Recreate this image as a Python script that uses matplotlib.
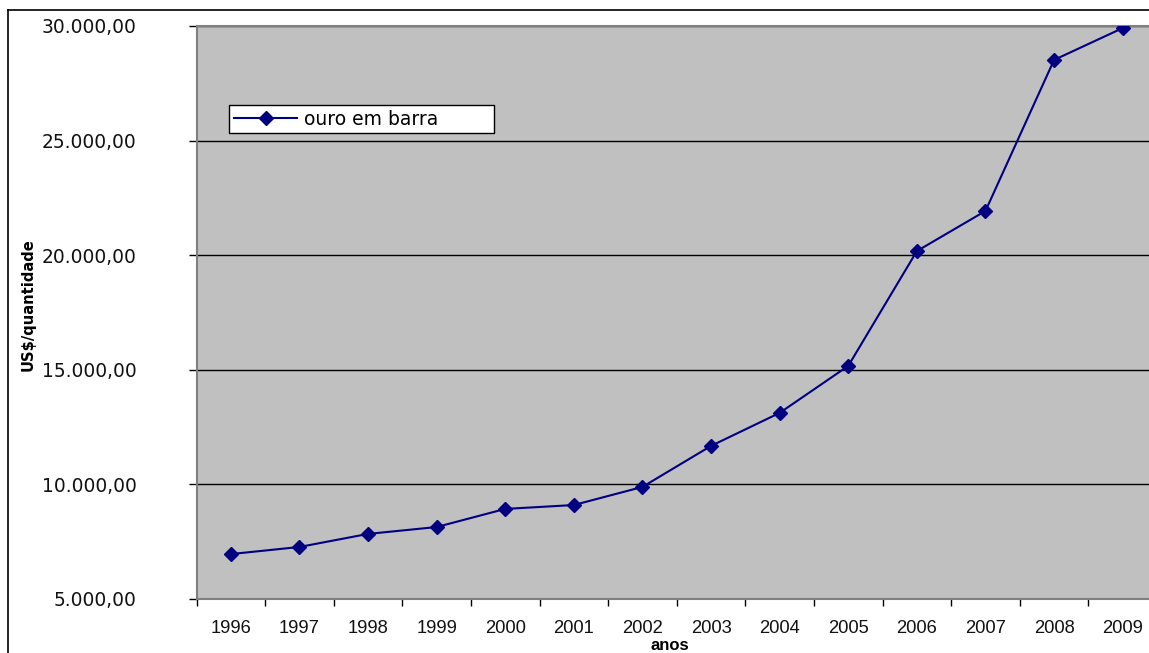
import matplotlib
matplotlib.use("Agg")
import matplotlib.pyplot as plt
from matplotlib.ticker import FuncFormatter, FixedLocator
from matplotlib.lines import Line2D

years = ["1996", "1997", "1998", "1999", "2000", "2001", "2002",
         "2003", "2004", "2005", "2006", "2007", "2008", "2009"]
gold_bar = [6960, 7270, 7840, 8140, 8930, 9100, 9890,
            11680, 13120, 15170, 20180, 21930, 28520, 29910]
series_name = "ouro em barra"
y_ticks = [5000, 10000, 15000, 20000, 25000, 30000]

W, H = 1149, 653
fig = plt.figure(figsize=(W / 100, H / 100), dpi=100)
fig.patch.set_facecolor("white")

# plot area in pixel terms
left_px, right_px, top_px, bottom_px = 196.5, 1157.0, 26.0, 599.0
ax = fig.add_axes([left_px / W, 1 - bottom_px / H,
                   (right_px - left_px) / W, (bottom_px - top_px) / H])
ax.set_facecolor("#C0C0C0")

x = list(range(len(years)))
ax.plot(x, gold_bar, color="#000080", lw=1.5, marker="D", ms=6.8, mew=1,
        mec="#000080", mfc="#000080", label=series_name, zorder=3)

ax.set_xlim(-0.5, len(years) - 0.5)
ax.set_ylim(5000, 30000)

def br_fmt(v, pos):
    s = f"{v:,.2f}"
    return s.replace(",", "X").replace(".", ",").replace("X", ".")

ax.yaxis.set_major_locator(FixedLocator(y_ticks))
ax.yaxis.set_major_formatter(FuncFormatter(br_fmt))
ax.tick_params(axis="y", which="major", direction="out", length=6, width=1,
               color="black", pad=37, labelsize=13.4, labelcolor="#111111")
for lbl in ax.get_yticklabels():
    lbl.set_fontfamily("DejaVu Sans")

ax.set_xticks(x)
ax.set_xticklabels(years, fontfamily="Liberation Sans", fontsize=13.2)
ax.set_xticks([i - 0.5 for i in range(len(years) + 1)], minor=True)
ax.tick_params(axis="x", which="major", length=0, pad=15, labelcolor="#111111")
ax.tick_params(axis="x", which="minor", direction="out", length=5, width=1,
               color="black")

ax.yaxis.grid(True, color="black", lw=1)
ax.set_axisbelow(True)
for side in ["left", "bottom", "top", "right"]:
    ax.spines[side].set_color("#808080")
    ax.spines[side].set_linewidth(1.5)

# legend box
lx0 = (229 - left_px) / (right_px - left_px)
ly1 = 1 - (105 - top_px) / (bottom_px - top_px)
lw = (494 - 229) / (right_px - left_px)
leg = ax.legend(loc="upper left", bbox_to_anchor=(lx0, ly1 - 0.01, lw, 0.01),
                mode="expand", borderaxespad=0, fancybox=False, shadow=False,
                framealpha=1, edgecolor="black", handlelength=3.4,
                handletextpad=0.35, borderpad=0.25,
                prop={"family": "DejaVu Sans", "size": 13.5})
leg.get_frame().set_linewidth(1)

# axis titles
fig.text(28 / W, 1 - 305 / H, "US$/quantidade", rotation=90, ha="center",
         va="center", fontsize=11.8, fontweight="heavy", fontstretch="condensed",
         family="DejaVu Sans")
fig.text(670 / W, 1 - 646 / H, "anos", ha="center", va="center",
         fontsize=12, fontweight="bold", family="Liberation Sans")

# chart outer border
fig.add_artist(Line2D([8 / W, 8 / W], [-0.05, 1 - 10 / H],
                      transform=fig.transFigure, color="black", lw=1.2))
fig.add_artist(Line2D([8 / W, 1.05], [1 - 10 / H, 1 - 10 / H],
                      transform=fig.transFigure, color="black", lw=1.2))

fig.savefig("out.png", dpi=100)
